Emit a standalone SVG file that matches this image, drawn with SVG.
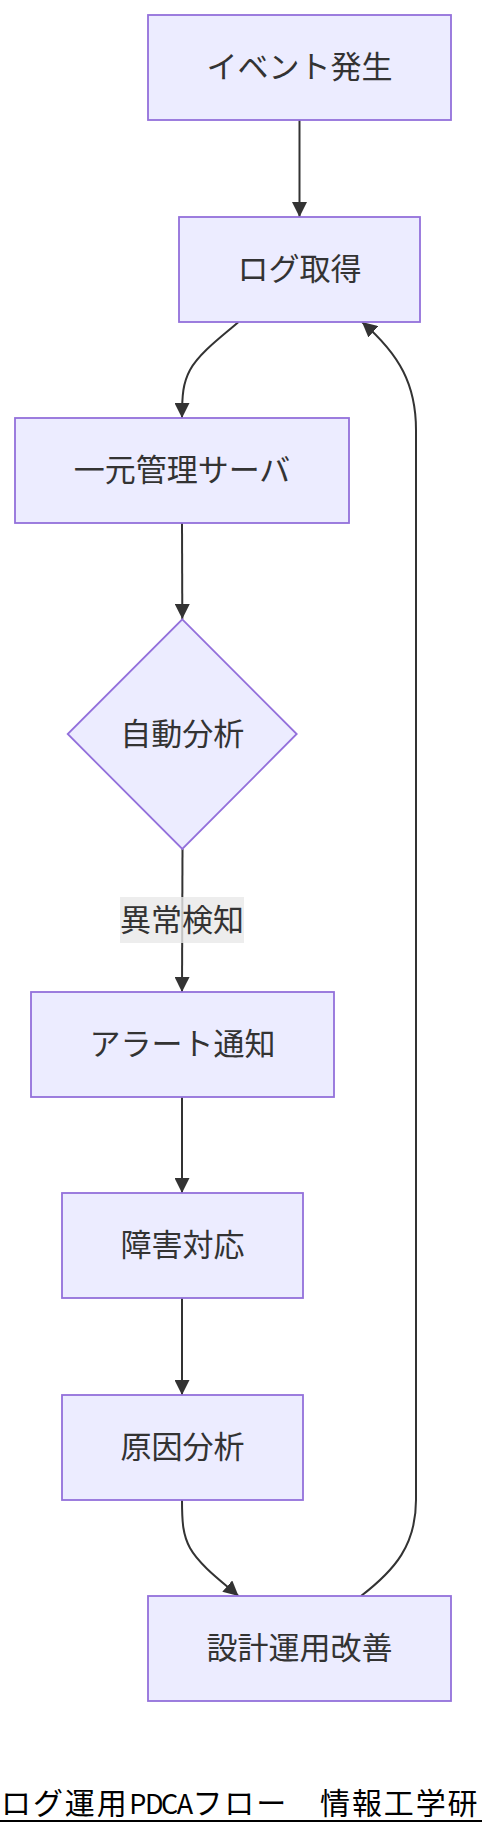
<svg xmlns="http://www.w3.org/2000/svg" width="482" height="1836" viewBox="0 0 482 1836">
<defs>
<style>
.node rect, .node polygon { fill: #ECECFF; stroke: #9370DB; stroke-width: 1.8; }
.node text, .elabel text { font-family: "Noto Sans CJK JP", "Noto Sans CJK SC", sans-serif; font-size: 31px; fill: #333333; text-anchor: middle; dominant-baseline: central; }
.edges path { fill: none; stroke: #333333; stroke-width: 2; }
.elabel rect { fill: #e8e8e8; fill-opacity: 0.8; }
.title { font-family: "Noto Sans CJK JP", "Noto Sans CJK SC", sans-serif; font-size: 30px; fill: #000000; }
</style>
<marker id="arrow" viewBox="0 0 10 10" refX="10" refY="5" markerUnits="userSpaceOnUse" markerWidth="15" markerHeight="15" orient="auto">
<path d="M0,0 L10,5 L0,10 z" fill="#333333"/>
</marker>
</defs>
<rect x="0" y="0" width="482" height="1836" fill="#ffffff"/>
<g id="edges" class="edges">
<path d="M299.5,120 L299.5,217" marker-end="url(#arrow)"/>
<path d="M238.5,322 C225,334 200,352 190,370 C183,383 182,395 182,418" marker-end="url(#arrow)"/>
<path d="M182,523 L182.3,619" marker-end="url(#arrow)"/>
<path d="M182.5,849 L182,992" marker-end="url(#arrow)"/>
<path d="M182,1097 L182,1193" marker-end="url(#arrow)"/>
<path d="M182,1298 L182,1395" marker-end="url(#arrow)"/>
<path d="M182,1500 C182,1523 183,1535 190,1548 C200,1566 225,1584 238.5,1596" marker-end="url(#arrow)"/>
<path d="M361,1596 C395,1570 416,1545 416,1500 L416,430 C416,385 400,355 362,322" marker-end="url(#arrow)"/>
</g>
<g id="edge-label" class="elabel">
<rect x="120" y="897" width="124" height="46"/>
<text x="182" y="917">異常検知</text>
</g>
<g id="node-event" class="node">
<rect x="148" y="15" width="303" height="105"/>
<text x="299.5" y="64.5">イベント発生</text>
</g>
<g id="node-log" class="node">
<rect x="179" y="217" width="241" height="105"/>
<text x="299.5" y="266.5">ログ取得</text>
</g>
<g id="node-server" class="node">
<rect x="15" y="418" width="334" height="105"/>
<text x="182" y="467.5">一元管理サーバ</text>
</g>
<g id="node-analysis" class="node">
<polygon points="182.3,619.3 296.7,734 182.3,849 67.7,734"/>
<text x="182.3" y="731">自動分析</text>
</g>
<g id="node-alert" class="node">
<rect x="31" y="992" width="303" height="105"/>
<text x="182.5" y="1041.5">アラート通知</text>
</g>
<g id="node-response" class="node">
<rect x="62" y="1193" width="241" height="105"/>
<text x="182.5" y="1242.5">障害対応</text>
</g>
<g id="node-cause" class="node">
<rect x="62" y="1395" width="241" height="105"/>
<text x="182.5" y="1444.5">原因分析</text>
</g>
<g id="node-improve" class="node">
<rect x="148" y="1596" width="303" height="105"/>
<text x="299.5" y="1645.5">設計運用改善</text>
</g>
<g id="title">
<text class="title" y="1814" x="1 32.9 64.8 96.7"><tspan>ログ運用</tspan><tspan x="129.2 145 160.9 176.8" font-size="27">PDCA</tspan><tspan x="192.4 224.3 256.2 288.1 320 351.9 383.8 415.7 447.6">フロー　情報工学研</tspan></text>
<line x1="0" y1="1821" x2="482" y2="1821" stroke="#000000" stroke-width="2"/>
</g>
</svg>
